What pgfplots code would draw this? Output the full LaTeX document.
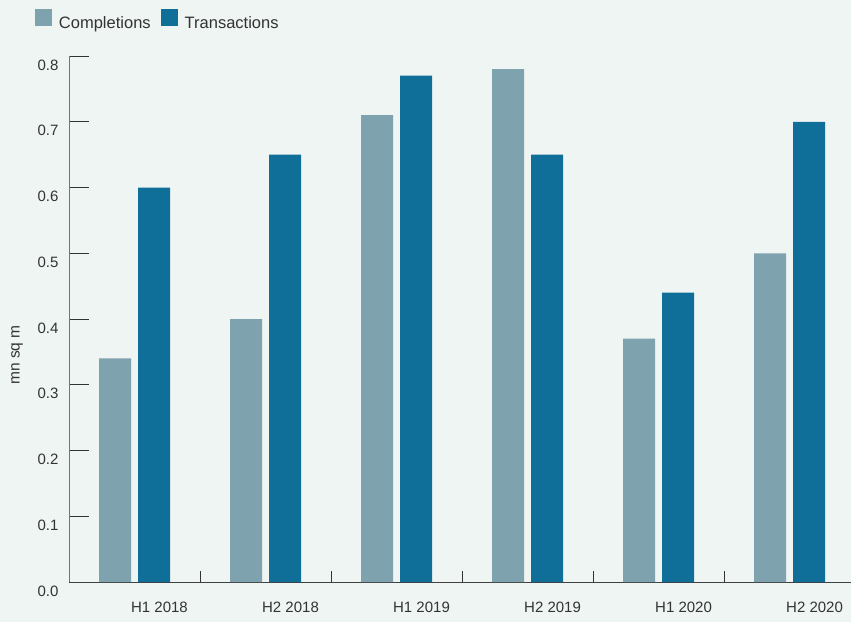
\documentclass[border=0pt]{standalone}
\usepackage{fontspec}
\setmainfont{Liberation Sans}
\usepackage{pgfplots}
\pgfplotsset{compat=1.18}
\usetikzlibrary{backgrounds}
\definecolor{bg}{HTML}{EFF5F3}
\definecolor{compl}{HTML}{7FA3AE}
\definecolor{trans}{HTML}{0F6F98}
\definecolor{txt}{HTML}{333333}
\begin{document}
\begin{tikzpicture}
\begin{axis}[
  at={(0,0)}, anchor=south west,
  scale only axis, width=782pt, height=526pt,
  xmin=0, xmax=5.969, ymin=0, ymax=0.8,
  axis x line=bottom, axis y line=left,
  x axis line style={-, draw=black!75, line width=0.9pt},
  y axis line style={-, draw=black!55, line width=0.9pt},
  tick align=inside,
  major tick length=20pt,
  xtick={0,1,2,3,4,5},
  xticklabels={H1 2018,H2 2018,H1 2019,H2 2019,H1 2020,H2 2020},
  xtick style={/pgfplots/major tick length=11pt, draw=black!80, line width=0.8pt},
  ytick style={draw=black!80, line width=0.8pt},
  ytick={0,0.1,0.2,0.3,0.4,0.5,0.6,0.7,0.8},
  yticklabel style={/pgf/number format/.cd, fixed, fixed zerofill, precision=1, /tikz/.cd, xshift=-7pt, yshift=-9pt},
  xticklabel style={xshift=90.5pt, yshift=-16pt},
  /pgf/number format/assume math mode=true,
  tick label style={font=\fontsize{15}{18}\selectfont, text=txt},
  ylabel={mn sq m},
  ylabel style={at={(axis description cs:-0.0665,0.4316)}, anchor=center, font=\fontsize{15.5}{19}\selectfont, text=txt},
  legend columns=2,
  legend style={at={(axis description cs:-0.04348,1.0694)}, anchor=west, draw=none, fill=none, inner sep=0pt, outer sep=0pt,
    font=\fontsize{16.5}{20}\selectfont, text=txt,
    nodes={inner sep=0pt},
    /tikz/every odd column/.append style={column sep=7pt},
    /tikz/every even column/.append style={column sep=10pt}},
]
\addplot[ybar, bar width=32pt, bar shift=-19.5pt, fill=compl, draw=none,
  legend image code/.code={\fill[compl] (0pt,-3pt) rectangle (17pt,14pt);}]
  coordinates {(0.5,0.34) (1.5,0.40) (2.5,0.71) (3.5,0.78) (4.5,0.37) (5.5,0.50)};
\addlegendentry{Completions}
\addplot[ybar, bar width=32pt, bar shift=19.5pt, fill=trans, draw=none,
  legend image code/.code={\fill[trans] (0pt,-3pt) rectangle (17pt,14pt);}]
  coordinates {(0.5,0.60) (1.5,0.65) (2.5,0.77) (3.5,0.65) (4.5,0.44) (5.5,0.70)};
\addlegendentry{Transactions}
\end{axis}
\begin{scope}[on background layer]
\fill[bg] (-69pt,-40pt) rectangle (782pt,582pt);
\end{scope}
\pgfresetboundingbox
\useasboundingbox (-69pt,-40pt) rectangle (782pt,582pt);
\end{tikzpicture}
\end{document}
